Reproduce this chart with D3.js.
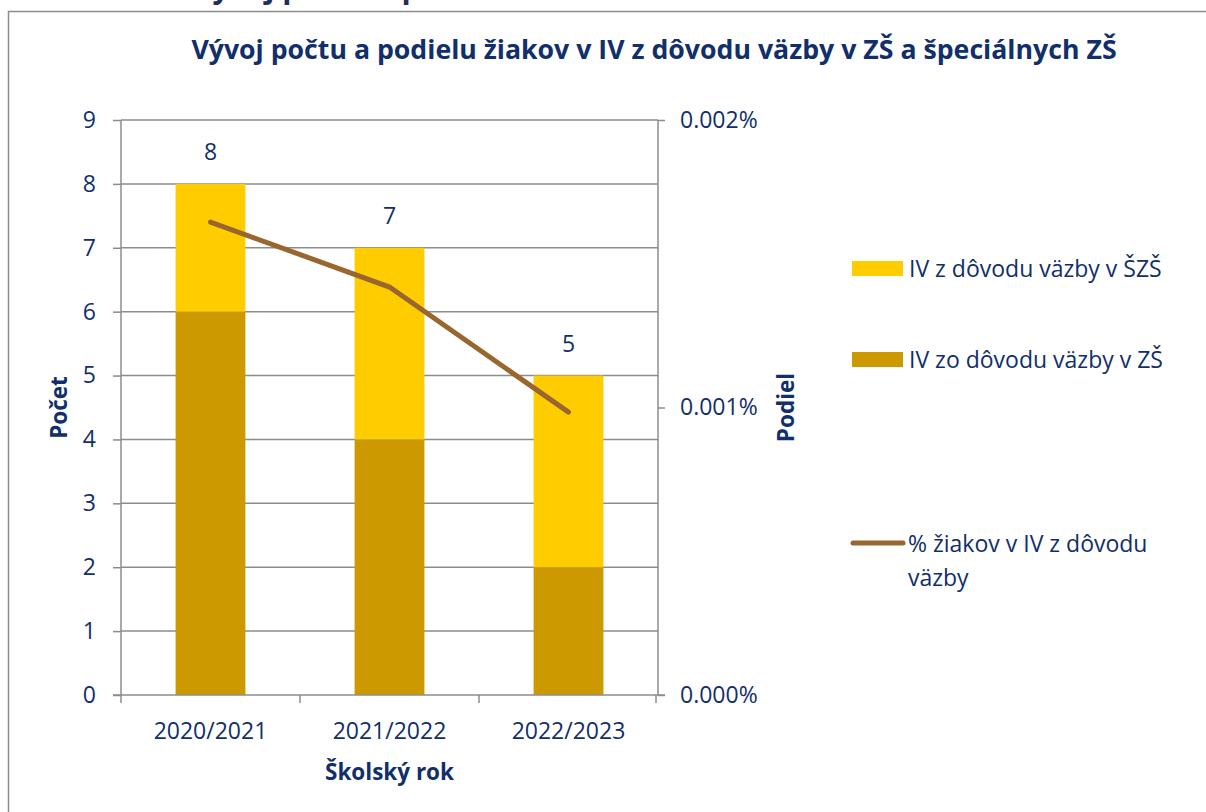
<!DOCTYPE html>
<html>
<head>
<meta charset="utf-8">
<script src="https://cdn.jsdelivr.net/npm/d3@7"></script>
<style>
  body { margin: 0; background: #fff; }
  svg { display: block; font-family: "Open Sans", sans-serif; }
</style>
</head>
<body>
<div id="chart"></div>
<script>
const years = ["2020/2021", "2021/2022", "2022/2023"];
const zs = [6, 4, 2];       // IV zo dôvodu väzby v ZŠ
const szs = [2, 3, 3];      // IV z dôvodu väzby v ŠZŠ
const podiel = [0.001645, 0.001419, 0.000984]; // % žiakov
const leftTicks = [0, 1, 2, 3, 4, 5, 6, 7, 8, 9];
const rightTicks = [0, 0.001, 0.002];

const navy = "#112f6b";
const w = 1206, h = 812;
const plotLeft = 121, plotRight = 658, plotTop = 120, plotBottom = 695;

const svg = d3.select("#chart").append("svg")
    .attr("width", w)
    .attr("height", h);

// heading of the page above, cut by the top edge
svg.append("text")
    .attr("x", 193)
    .attr("y", -2)
    .style("font-size", "30px")
    .style("font-weight", "bold")
    .style("fill", "#1f2f5e")
    .text("Vývoj počtu a podielu žiakov");

// frame
svg.append("path")
    .attr("d", "M8.5," + h + "V11.5H" + w)
    .attr("fill", "none")
    .attr("stroke", "#8c8c8c")
    .attr("stroke-width", 1.5);

svg.append("text")
    .attr("x", 654)
    .attr("y", 59)
    .attr("text-anchor", "middle")
    .style("font-size", "26.7px")
    .style("font-weight", "bold")
    .style("fill", navy)
    .text("Vývoj počtu a podielu žiakov v IV z dôvodu väzby v ZŠ a špeciálnych ZŠ");

const x = d3.scaleBand()
    .domain(years)
    .range([plotLeft, plotRight])
    .paddingInner(0.61)
    .paddingOuter(0.305);
const y = d3.scaleLinear().domain([0, 9]).range([plotBottom, plotTop]);
const y2 = d3.scaleLinear().domain([0, 0.002]).range([plotBottom, plotTop]);

// gridlines
svg.append("g")
    .selectAll("line")
    .data(leftTicks.slice(1))
    .enter()
    .append("line")
    .attr("x1", plotLeft)
    .attr("x2", plotRight)
    .attr("y1", d => y(d))
    .attr("y2", d => y(d))
    .attr("stroke", "#8c8c8c")
    .attr("stroke-width", 1.5);

// stacked bars
const stackData = years.map((yr, i) => ({ year: yr, zs: zs[i], szs: szs[i] }));
const series = d3.stack().keys(["zs", "szs"])(stackData);
const colors = { zs: "#cc9900", szs: "#ffcc00" };
svg.append("g")
    .selectAll("g")
    .data(series)
    .enter()
    .append("g")
    .attr("fill", d => colors[d.key])
    .selectAll("rect")
    .data(d => d)
    .enter()
    .append("rect")
    .attr("x", d => x(d.data.year))
    .attr("width", x.bandwidth())
    .attr("y", d => y(d[1]))
    .attr("height", d => y(d[0]) - y(d[1]));

// totals above bars
svg.append("g")
    .selectAll("text")
    .data(stackData)
    .enter()
    .append("text")
    .attr("x", d => x(d.year) + x.bandwidth() / 2)
    .attr("y", d => y(d.zs + d.szs) - 24)
    .attr("text-anchor", "middle")
    .style("font-size", "23px")
    .style("fill", navy)
    .text(d => d.zs + d.szs);

// axes
const axisStyle = g => {
    g.select(".domain").attr("stroke", "#8c8c8c").attr("stroke-width", 1.5);
    g.selectAll(".tick line").attr("stroke", "#8c8c8c").attr("stroke-width", 1.5);
    g.selectAll("text").style("font-size", "23px").style("fill", navy)
        .style("font-family", "'Open Sans', sans-serif");
};

const xAxis = d3.axisBottom(x).tickSize(0).tickPadding(28);
svg.append("g")
    .attr("transform", "translate(0," + plotBottom + ")")
    .call(xAxis)
    .call(axisStyle)
    .call(g => g.select(".domain").attr("d", "M" + (plotLeft - 8) + ",0H" + (plotRight + 7)));

// category boundary ticks
svg.append("g")
    .selectAll("line")
    .data(d3.range(years.length + 1))
    .enter()
    .append("line")
    .attr("x1", i => plotLeft + i * x.step() - (i === years.length ? 2 : 0))
    .attr("x2", i => plotLeft + i * x.step() - (i === years.length ? 2 : 0))
    .attr("y1", plotBottom)
    .attr("y2", plotBottom + 8)
    .attr("stroke", "#8c8c8c")
    .attr("stroke-width", 1.5);

const yAxis = d3.axisLeft(y).tickValues(leftTicks).tickSize(8).tickPadding(17);
svg.append("g")
    .attr("transform", "translate(" + plotLeft + ",0)")
    .call(yAxis)
    .call(axisStyle)
    .call(g => g.select(".domain").attr("d", "M0," + plotTop + "V" + plotBottom));

const yAxis2 = d3.axisRight(y2).tickValues(rightTicks).tickSize(7).tickPadding(15)
    .tickFormat(d => d3.format(".3f")(d) + "%");
svg.append("g")
    .attr("transform", "translate(" + plotRight + ",0)")
    .call(yAxis2)
    .call(axisStyle)
    .call(g => g.select(".domain").attr("d", "M0," + plotTop + "V" + plotBottom));

// line series
const line = d3.line()
    .x((d, i) => x(years[i]) + x.bandwidth() / 2)
    .y(d => y2(d));
svg.append("path")
    .datum(podiel)
    .attr("d", line)
    .attr("fill", "none")
    .attr("stroke", "#9a6630")
    .attr("stroke-width", 5)
    .attr("stroke-linecap", "round");

// axis titles
const titleStyle = t => t.style("font-size", "22.5px")
    .style("font-weight", "bold")
    .style("fill", navy)
    .attr("text-anchor", "middle");
svg.append("text")
    .attr("transform", "translate(67," + ((plotTop + plotBottom) / 2) + ") rotate(-90)")
    .call(titleStyle)
    .text("Počet");
svg.append("text")
    .attr("transform", "translate(794," + ((plotTop + plotBottom) / 2) + ") rotate(-90)")
    .call(titleStyle)
    .text("Podiel");
svg.append("text")
    .attr("x", (plotLeft + plotRight) / 2)
    .attr("y", 780)
    .call(titleStyle)
    .text("Školský rok");

// legend
const legend = svg.append("g").style("font-size", "23px").style("fill", navy);
legend.append("rect").attr("x", 852).attr("y", 261).attr("width", 51).attr("height", 15).attr("fill", colors.szs);
legend.append("text").attr("x", 909).attr("y", 277).text("IV z dôvodu väzby v ŠZŠ");
legend.append("rect").attr("x", 852).attr("y", 352).attr("width", 51).attr("height", 15).attr("fill", colors.zs);
legend.append("text").attr("x", 909).attr("y", 368).text("IV zo dôvodu väzby v ZŠ");
legend.append("line").attr("x1", 853).attr("x2", 903).attr("y1", 543).attr("y2", 543)
    .attr("stroke", "#9a6630").attr("stroke-width", 5).attr("stroke-linecap", "round");
legend.append("text").attr("x", 908).attr("y", 552).text("% žiakov v IV z dôvodu");
legend.append("text").attr("x", 908).attr("y", 586).text("väzby");
</script>
</body>
</html>
